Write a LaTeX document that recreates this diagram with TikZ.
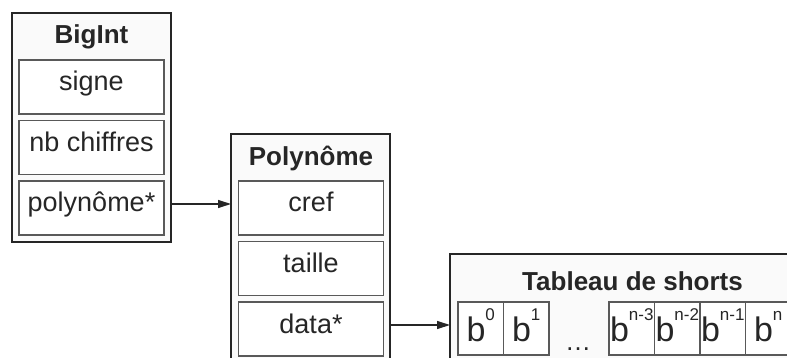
\documentclass[tikz,border=0pt]{standalone}
\usepackage{fontspec}
\setmainfont{Liberation Sans}
\usetikzlibrary{arrows.meta, positioning}
\newcommand{\bpow}[1]{b\raisebox{21pt}{\fontsize{17}{18}\selectfont #1}}

\begin{document}
\begin{tikzpicture}[x=1pt, y=-1pt, node distance=6.5pt]
  \tikzstyle{outer} = [rectangle, draw=black!85, line width=1.6pt, fill=black!2, minimum width=159pt, minimum height=229pt, anchor=north west, outer sep=0pt]
  \tikzstyle{title} = [anchor=base, font=\fontsize{26}{30}\selectfont\bfseries, text=black!85]
  \tikzstyle{field} = [rectangle, draw=black!65, line width=1.1pt, fill=white, minimum width=145pt, minimum height=54pt, inner sep=0pt, outer sep=0pt, text height=18pt, text depth=10pt, font=\fontsize{27}{30}\selectfont, text=black!85]
  \tikzstyle{cell} = [field, minimum width=45.5pt, minimum height=53pt, text height=28pt, text depth=3pt, font=\fontsize{34}{36}\selectfont]
  \tikzstyle{arrow} = [line width=1.2pt, black!85, -{Triangle[length=13pt, width=8pt]}]

  \useasboundingbox (0,0) rectangle (787,358);
  \clip (0,0) rectangle (787,358);

  % BigInt
  \node[outer] (bigint) at (12,13) {};
  \node[title] (bigintname) at (91.5,43.5) {BigInt};
  \node[field, anchor=north] (signe) at (91.5,60) {signe};
  \node[field, below=of signe] (nbch) {nb chiffres};
  \node[field, below=of nbch] (pptr) {polynôme*};

  % Polynome
  \node[outer] (poly) at (231,134) {};
  \node[title] (polyname) at (311,165.5) {Polynôme};
  \node[field, anchor=north] (cref) at (311,181) {cref};
  \node[field, below=of cref] (taille) {taille};
  \node[field, below=of taille] (data) {data*};

  % Tableau
  \node[outer, minimum width=360pt] (tab) at (450,254) {};
  \node[title] (tabname) at (632.5,290) {Tableau de shorts};
  \node[cell, anchor=north west] (b0) at (458,302) {\bpow{0}};
  \node[cell, right=0pt of b0] (b1) {\bpow{1}};
  \node[anchor=base, font=\fontsize{26}{30}\selectfont, text=black!85] (dots) at (578,350) {\ldots};
  \node[cell, right=60pt of b1] (bn3) {\bpow{n-3}};
  \node[cell, right=0pt of bn3] (bn2) {\bpow{n-2}};
  \node[cell, right=0pt of bn2] (bn1) {\bpow{n-1}};
  \node[cell, right=0pt of bn1] (bn) {\bpow{n}};

  \coordinate (pp) at ([yshift=4pt]pptr.east);
  \coordinate (dp) at ([yshift=4pt]data.east);
  \draw[arrow] (pp -| bigint.east) -- (pp -| poly.west);
  \draw[arrow] (dp -| poly.east) -- (dp -| tab.west);
\end{tikzpicture}
\end{document}
